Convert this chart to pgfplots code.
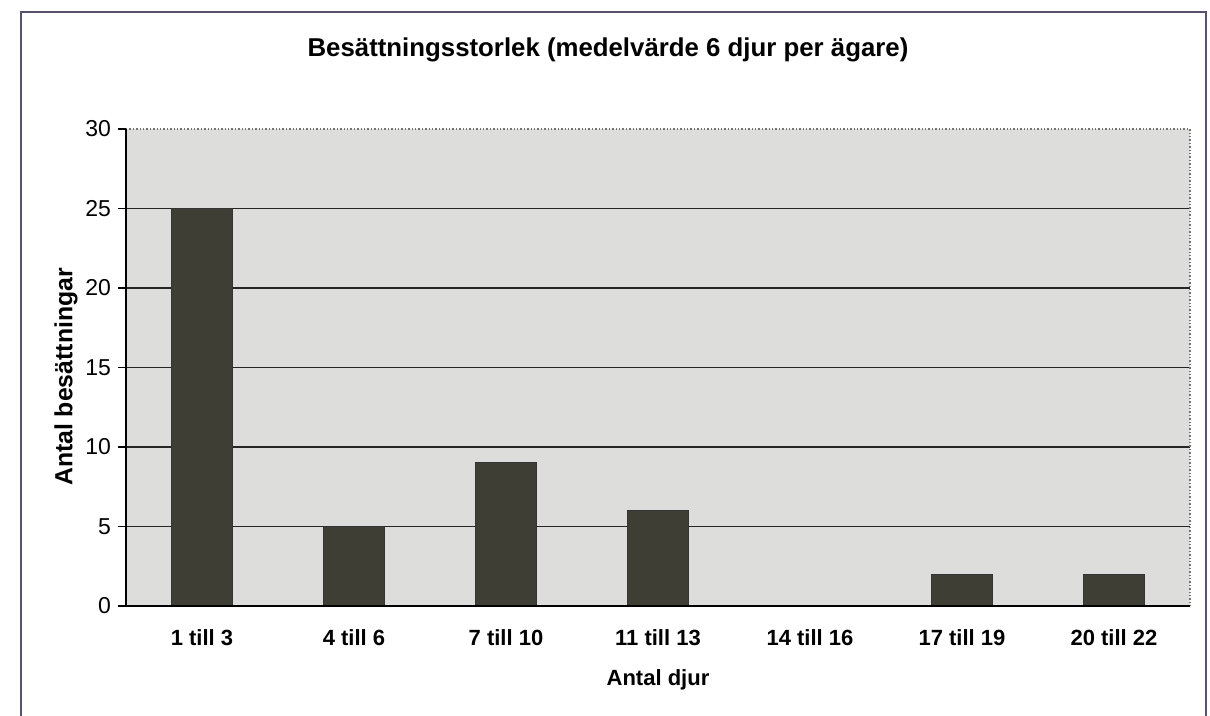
\documentclass[border=0pt]{standalone}
\usepackage{pgfplots}
\pgfplotsset{compat=1.18}
\usepackage{fontspec}
\setmainfont{Liberation Sans}
\definecolor{plotbg}{RGB}{221,221,219}
\definecolor{barcol}{RGB}{62,62,52}
\definecolor{framecol}{RGB}{90,80,110}
\begin{document}
\begin{tikzpicture}[x=1pt,y=1pt]
\path[use as bounding box] (0,0) rectangle (605,358);
\draw[framecol, line width=0.8pt] (10.5,0) -- (10.5,352) -- (603,352) -- (603,0);
\node[font=\bfseries\fontsize{12.9}{15}\selectfont] at (304,333) {Besättningsstorlek (medelvärde 6 djur per ägare)};
\begin{axis}[
  at={(63pt,55pt)}, anchor=south west,
  scale only axis, width=532pt, height=238.5pt,
  xmin=-0.5, xmax=6.5, ymin=0, ymax=30,
  axis background/.style={fill=plotbg},
  axis line style={draw=none},
  xtick pos=bottom, ytick pos=left,
  xtick={0,...,6},
  xticklabels={1 till 3,4 till 6,7 till 10,11 till 13,14 till 16,17 till 19,20 till 22},
  xticklabel style={font=\bfseries\fontsize{11}{13}\selectfont, yshift=-4pt},
  major x tick style={draw=none},
  extra x ticks={-0.5,0.5,1.5,2.5,3.5,4.5,5.5,6.5},
  extra x tick labels={},
  extra x tick style={tick style={black, line width=0.6pt}, major tick length=4pt, tick align=outside, grid=none},
  ytick={0,5,...,25},
  extra y ticks={30},
  extra y tick style={grid=none, tick style={black, line width=0.6pt}},
  yticklabel style={font=\fontsize{11.5}{13}\selectfont},
  tick align=outside, major tick length=4pt,
  y tick style={black, line width=0.6pt},
  ymajorgrids, major grid style={black!85, line width=0.6pt},
  /pgf/number format/assume math mode=true,
  xlabel={Antal djur}, xlabel style={font=\bfseries\fontsize{11}{13}\selectfont, at={(axis description cs:0.5,0)}, anchor=center, yshift=-37pt},
  ylabel={Antal besättningar}, ylabel style={font=\bfseries\fontsize{12.4}{14}\selectfont, at={(axis description cs:-0.0564,0.48)}, anchor=center},
  clip=false,
]
\addplot[ybar, bar width=0.4, fill=barcol, draw=black!80] coordinates {(0,25) (1,5) (2,9) (3,6) (4,0) (5,2) (6,2)};
\draw[black!55, densely dotted, line width=0.7pt] (rel axis cs:0,1) -- (rel axis cs:1,1) -- (rel axis cs:1,0);
\draw[black, line width=0.7pt] (rel axis cs:0,1) -- (rel axis cs:0,0) -- (rel axis cs:1,0);
\end{axis}
\end{tikzpicture}
\end{document}
